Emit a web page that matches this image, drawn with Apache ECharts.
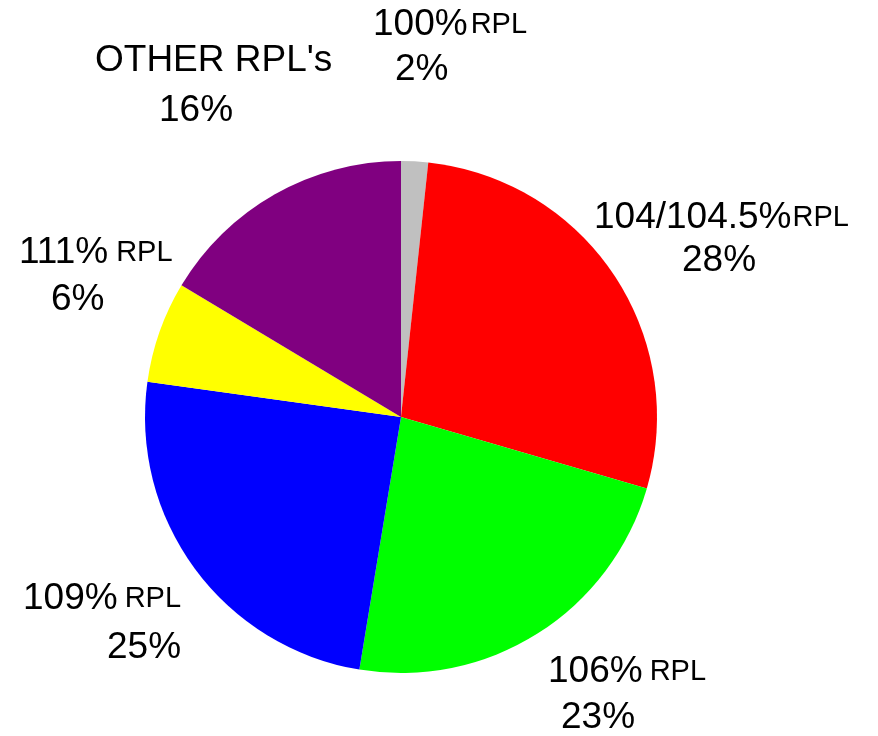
<!DOCTYPE html>
<html>
<head>
<meta charset="utf-8">
<script src="https://cdn.jsdelivr.net/npm/echarts@6/dist/echarts.min.js"></script>
<style>
html,body{margin:0;padding:0;background:#fff;}
#chart{width:878px;height:736px;}
</style>
</head>
<body>
<div id="chart"></div>
<script>
// Data
var categories = ['100% RPL', '104/104.5% RPL', '106% RPL', '109% RPL', '111% RPL', "OTHER RPL's"];
var shares = [1.7, 27.8, 23.1, 24.6, 6.4, 16.4];
var colors = ['#C0C0C0', '#FF0000', '#00FF00', '#0000FF', '#FFFF00', '#800080'];

// Label layout (positions / styles kept separate from data)
var labelPos = [
  {x: 373, y: 2,   pad2: 22, gap: 3, lh2: 45},
  {x: 594, y: 195, pad2: 88, gap: 1, lh2: 41},
  {x: 548, y: 649, pad2: 13, gap: 7, lh2: 47},
  {x: 23,  y: 576, pad2: 84, gap: 7, lh2: 53},
  {x: 19,  y: 230, pad2: 32, gap: 8, lh2: 49},
  {x: 95,  y: 38,  pad2: 64, gap: 0, lh2: 55}
];

var FONT = "'Liberation Sans', Arial, Helvetica, sans-serif";
var rich = {
  a: {fontSize: 37, lineHeight: 45, color: '#000', fontFamily: FONT}
};
labelPos.forEach(function (p, i) {
  rich['r' + i] = {fontSize: 29, lineHeight: 45, color: '#000', fontFamily: FONT, padding: [0, 0, 0, p.gap]};
  rich['p' + i] = {fontSize: 37, lineHeight: p.lh2, color: '#000', fontFamily: FONT, padding: [0, 0, 0, p.pad2]};
});

var chart = echarts.init(document.getElementById('chart'), null, {renderer: 'canvas'});
chart.setOption({
  animation: false,
  backgroundColor: '#fff',
  series: [{
    type: 'pie',
    center: [401, 417],
    radius: 256,
    startAngle: 90,
    clockwise: true,
    avoidLabelOverlap: false,
    itemStyle: {borderWidth: 0},
    emphasis: {disabled: true},
    labelLine: {show: false},
    label: {
      show: true,
      position: 'outside',
      align: 'left',
      formatter: function (params) {
        var i = params.dataIndex;
        var name = params.name;
        var pct = Math.round(params.percent) + '%';
        var m = name.match(/^(.*) RPL$/);
        var line1 = m ? ('{a|' + m[1] + '}{r' + i + '|RPL}') : ('{a|' + name + '}');
        return line1 + '\n{p' + i + '|' + pct + '}';
      },
      rich: rich
    },
    labelLayout: function (params) {
      var p = labelPos[params.dataIndex];
      return {x: p.x, y: p.y, align: 'left', verticalAlign: 'top'};
    },
    data: categories.map(function (c, i) {
      return {name: c, value: shares[i], itemStyle: {color: colors[i]}};
    })
  }]
});
</script>
</body>
</html>
